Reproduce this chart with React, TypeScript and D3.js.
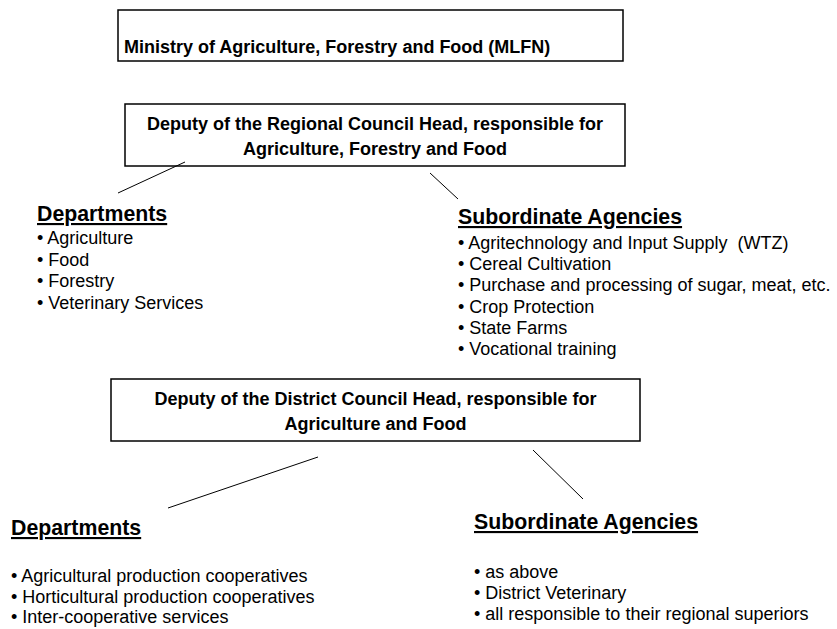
import React from "react";
import * as d3 from "d3";

// node titles, top to bottom
const ministryLines = ["Ministry of Agriculture, Forestry and Food (MLFN)"];
const regionalLines = [
  "Deputy of the Regional Council Head, responsible for",
  "Agriculture, Forestry and Food",
];
const districtLines = [
  "Deputy of the District Council Head, responsible for",
  "Agriculture and Food",
];

// list headings
const deptHeading = "Departments";
const agencyHeading = "Subordinate Agencies";

// regional level lists
const regionalDepts = ["Agriculture", "Food", "Forestry", "Veterinary Services"];
const regionalAgencies = [
  "Agritechnology and Input Supply  (WTZ)",
  "Cereal Cultivation",
  "Purchase and processing of sugar, meat, etc.",
  "Crop Protection",
  "State Farms",
  "Vocational training",
];

// district level lists
const districtDepts = [
  "Agricultural production cooperatives",
  "Horticultural production cooperatives",
  "Inter-cooperative services",
];
const districtAgencies = [
  "as above",
  "District Veterinary",
  "all responsible to their regional superiors",
];

const FONT = "'Liberation Sans', Arial, Helvetica, sans-serif";

type ListProps = {
  x: number;
  headY: number;
  firstY: number;
  step: number;
  heading: string;
  items: string[];
};

function BulletList({ x, headY, firstY, step, heading, items }: ListProps) {
  const y = d3
    .scaleLinear()
    .domain([0, 1])
    .range([firstY, firstY + step]);
  return (
    <g>
      <text
        x={x}
        y={headY}
        fontSize={21.3}
        fontWeight="bold"
        style={{ textDecoration: "underline" }}
      >
        {heading}
      </text>
      {items.map((d, i) => (
        <text key={d} x={x} y={y(i)} fontSize={18} style={{ whiteSpace: "pre" }}>
          {"\u2022 " + d}
        </text>
      ))}
    </g>
  );
}

function Box({
  x0,
  y0,
  x1,
  y1,
  lines,
  firstY,
  step,
  align,
}: {
  x0: number;
  y0: number;
  x1: number;
  y1: number;
  lines: string[];
  firstY: number;
  step: number;
  align: "start" | "middle";
}) {
  const tx = align === "middle" ? (x0 + x1) / 2 : x0 + 6;
  return (
    <g>
      <rect
        x={x0}
        y={y0}
        width={x1 - x0}
        height={y1 - y0}
        fill="#fff"
        stroke="#000"
        strokeWidth={1.5}
      />
      {lines.map((l, i) => (
        <text
          key={l}
          x={tx}
          y={firstY + i * step}
          fontSize={18}
          fontWeight="bold"
          textAnchor={align}
        >
          {l}
        </text>
      ))}
    </g>
  );
}

export default function App() {
  const width = 837;
  const height = 629;

  const links: [number, number, number, number][] = [
    [185, 162, 118, 193],
    [430, 173, 458, 199],
    [318, 457, 168, 508],
    [533, 450, 583, 499],
  ];

  return (
    <svg
      width={width}
      height={height}
      style={{ position: "absolute", left: 0, top: 0, background: "#fff" }}
      fontFamily={FONT}
      fill="#000"
    >
      <Box x0={118} y0={10} x1={623} y1={61} lines={ministryLines} firstY={53} step={0} align="start" />
      <Box x0={125} y0={104} x1={625} y1={166} lines={regionalLines} firstY={130} step={25} align="middle" />
      <Box x0={111} y0={379} x1={640} y1={441} lines={districtLines} firstY={405} step={25} align="middle" />

      {links.map((l, i) => (
        <line key={i} x1={l[0]} y1={l[1]} x2={l[2]} y2={l[3]} stroke="#000" strokeWidth={1} />
      ))}

      <BulletList x={37} headY={221} firstY={244} step={21.5} heading={deptHeading} items={regionalDepts} />
      <BulletList x={458} headY={224} firstY={249} step={21.2} heading={agencyHeading} items={regionalAgencies} />
      <BulletList x={11} headY={535} firstY={582} step={20.5} heading={deptHeading} items={districtDepts} />
      <BulletList x={474} headY={529} firstY={578} step={21} heading={agencyHeading} items={districtAgencies} />
    </svg>
  );
}
